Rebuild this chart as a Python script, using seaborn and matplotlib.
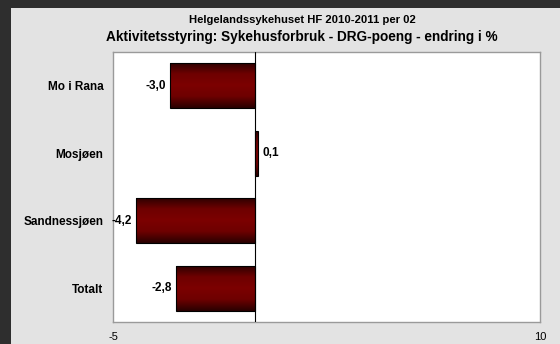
import numpy as np
import pandas as pd
import matplotlib
matplotlib.use("Agg")
import matplotlib.pyplot as plt
import seaborn as sns
from matplotlib.patches import Rectangle
from matplotlib.colors import LinearSegmentedColormap

# data
categories = ["Mo i Rana", "Mosjøen", "Sandnessjøen", "Totalt"]
values = [-3.0, 0.1, -4.2, -2.8]
x_ticks = [-5, 10]

sns.set_style("white")
plt.rcParams['font.family'] = ['Liberation Sans', 'DejaVu Sans']
plt.rcParams['text.color'] = 'black'
plt.rcParams['xtick.color'] = 'black'
plt.rcParams['ytick.color'] = 'black'

df = pd.DataFrame({"sykehus": categories, "endring": values})

fig = plt.figure(figsize=(5.6, 3.44), dpi=100, facecolor='#2e2e2e')
# lys panel-bakgrunn
fig.patches.append(Rectangle((11 / 560, 0), 1, 1 - 8 / 344, transform=fig.transFigure,
                             facecolor='#e3e3e3', edgecolor='none', zorder=-10))

ax = fig.add_axes([113 / 560, 1 - 322 / 344, 427 / 560, 270 / 344])
ax.set_facecolor('white')
sns.barplot(data=df, x="endring", y="sykehus", orient='h', color='#7a0000',
            width=0.67, edgecolor='black', linewidth=0.8, ax=ax)

# gradient i stolpene (mørk kant, rød midt)
cmap = LinearSegmentedColormap.from_list("bar", ['#2a0000', '#6e0000', '#7c0000', '#6e0000', '#2a0000'])
grad = np.linspace(0, 1, 64).reshape(-1, 1)
for p in ax.patches:
    x0, y0 = p.get_x(), p.get_y()
    w, h = p.get_width(), p.get_height()
    im = ax.imshow(grad, cmap=cmap, aspect='auto', extent=(x0, x0 + w, y0 + h, y0), zorder=2)
    im.set_clip_path(p)
    p.set_facecolor('none')
    p.set_zorder(3)

ax.set_xlim(-5, 10)
ax.set_ylim(3.5, -0.5)
ax.axvline(0, color='black', lw=0.8, zorder=4)

for i, v in enumerate(values):
    txt = f"{v:.1f}".replace('.', ',')
    if v < 0:
        ax.annotate(txt, (v, i), xytext=(-2.5, 0), textcoords='offset points',
                    ha='right', va='center', fontsize=8.5, fontweight='bold')
    else:
        ax.annotate(txt, (v, i), xytext=(3, 0), textcoords='offset points',
                    ha='left', va='center', fontsize=8.5, fontweight='bold')

ax.set_xticks(x_ticks)
ax.set_xticklabels([str(t) for t in x_ticks], fontsize=8)
ax.tick_params(axis='x', length=0, pad=7)
ax.tick_params(axis='y', length=0, pad=7, labelsize=8.5)
for lbl in ax.get_yticklabels():
    lbl.set_fontweight('bold')
ax.set_xlabel("")
ax.set_ylabel("")
for s in ax.spines.values():
    s.set_color('#9a9a9a')
    s.set_linewidth(1.0)

fig.text(302 / 560, 1 - 20 / 344, "Helgelandssykehuset HF 2010-2011 per 02",
         ha='center', va='center', fontsize=8.1, fontweight='bold')
fig.text(302 / 560, 1 - 37 / 344, "Aktivitetsstyring: Sykehusforbruk - DRG-poeng - endring i %",
         ha='center', va='center', fontsize=9.8, fontweight='bold')

fig.savefig("out.png", dpi=100, facecolor=fig.get_facecolor())
